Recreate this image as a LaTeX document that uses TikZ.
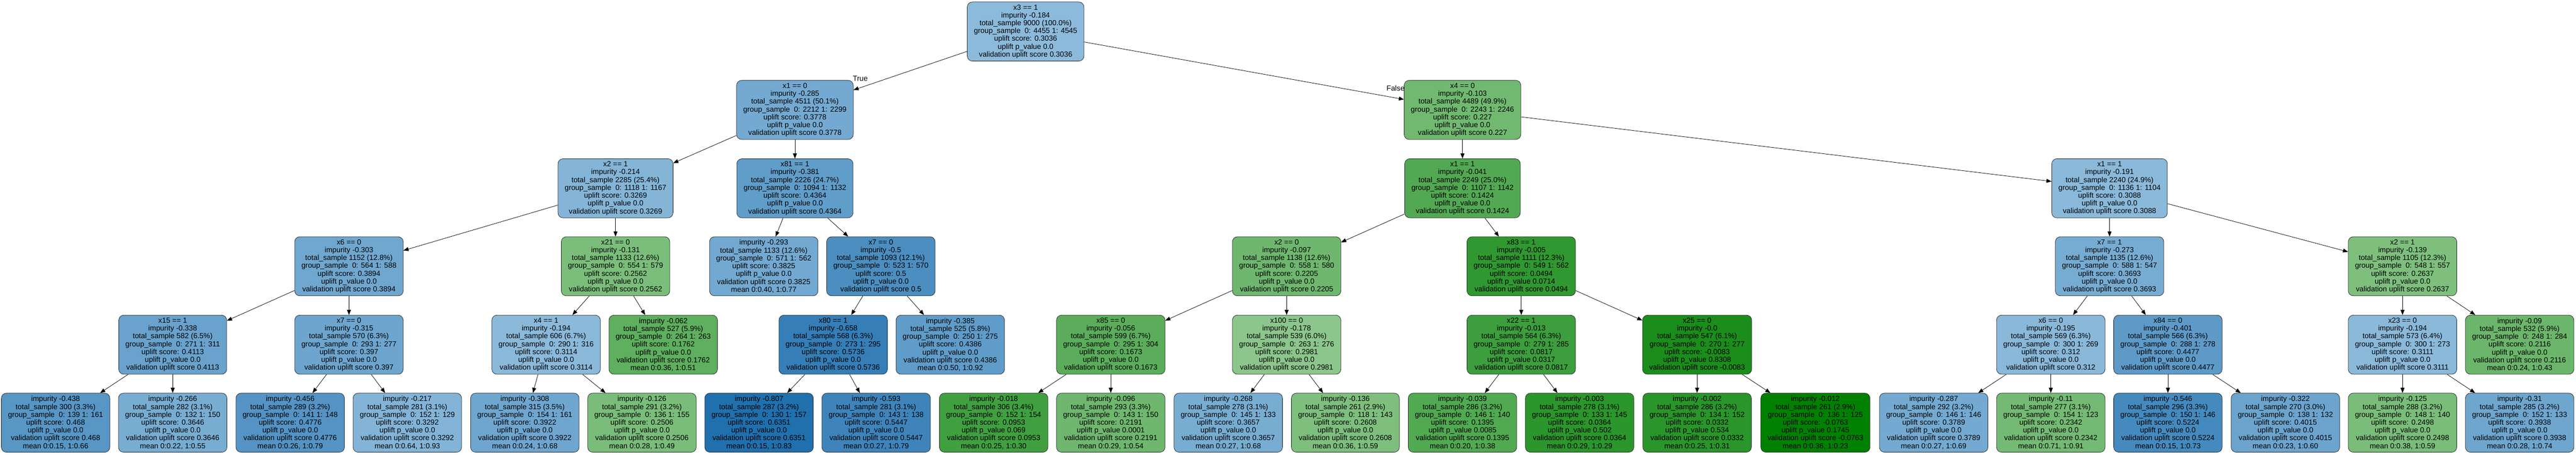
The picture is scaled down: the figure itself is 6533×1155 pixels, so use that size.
\documentclass[tikz,border=0pt]{standalone}
\usepackage{fontspec}
\setmainfont{Liberation Sans}
\usepackage{tikz}
\usepackage{xcolor}
\usetikzlibrary{arrows.meta}

\definecolor{blight}{HTML}{8DBBDB}
\definecolor{bdark}{HTML}{1F6FAE}
\definecolor{glight}{HTML}{8CC68C}
\definecolor{gdark}{HTML}{008000}

% text of a split node and of a leaf
\newcommand{\splittext}[6]{#1\\impurity #2\\total\_sample #3\\group\_sample\ \ #4\\uplift score: #5\\uplift p\_value #6\\validation uplift score #5}
\newcommand{\leaftext}[6]{impurity #1\\total\_sample #2\\group\_sample\ \ #3\\uplift score: #4\\uplift p\_value #5\\validation uplift score #4\\mean #6}

\tikzset{
  treenode/.style={draw=black!85, line width=1pt, rounded corners=13pt, align=center,
    minimum height=150pt, inner xsep=17pt, inner ysep=0pt,
    font=\fontsize{18.67}{19.9}\selectfont},
  bl/.style={treenode, fill=bdark!#1!blight},
  gr/.style={treenode, fill=gdark!#1!glight},
  link/.style={->, line width=1pt, black},
  edgelabel/.style={inner sep=0pt, font=\fontsize{18.67}{19.9}\selectfont}
}

\begin{document}
\begin{tikzpicture}[x=1pt, y=-1pt, >={Triangle[length=13pt,width=10pt]}]
	\useasboundingbox (0,0) rectangle (6533,1155);
% level 0
	\node[bl=1] (root) at (2601,80) {\splittext{x3 == 1}{-0.184}{9000 (100.0\%)}{0: 4455 1: 4545}{0.3036}{0.0}};
% level 1
	\node[bl=23] (l) at (2016,279) {\splittext{x1 == 0}{-0.285}{4511 (50.1\%)}{0: 2212 1: 2299}{0.3778}{0.0}};
	\node[gr=19] (r) at (3709,279) {\splittext{x4 == 0}{-0.103}{4489 (49.9\%)}{0: 2243 1: 2246}{0.227}{0.0}};
% level 2
	\node[bl=8] (ll) at (1561,478) {\splittext{x2 == 1}{-0.214}{2285 (25.4\%)}{0: 1118 1: 1167}{0.3269}{0.0}};
	\node[bl=40] (lr) at (2016,478) {\splittext{x81 == 1}{-0.381}{2226 (24.7\%)}{0: 1094 1: 1132}{0.4364}{0.0}};
	\node[gr=41] (rl) at (3709,478) {\splittext{x1 == 1}{-0.041}{2249 (25.0\%)}{0: 1107 1: 1142}{0.1424}{0.0}};
	\node[bl=3] (rr) at (5350,478) {\splittext{x1 == 1}{-0.191}{2240 (24.9\%)}{0: 1136 1: 1104}{0.3088}{0.0}};
% level 3
	\node[bl=26] (lll) at (885,676) {\splittext{x6 == 0}{-0.303}{1152 (12.8\%)}{0: 564 1: 588}{0.3894}{0.0}};
	\node[gr=12] (llr) at (1561,676) {\splittext{x21 == 0}{-0.131}{1133 (12.6\%)}{0: 554 1: 579}{0.2562}{0.0}};
	\node[bl=24] (lrl) at (1937,676) {\leaftext{-0.293}{1133 (12.6\%)}{0: 571 1: 562}{0.3825}{0.0}{0:0.40, 1:0.77}};
	\node[bl=59] (lrr) at (2234,676) {\splittext{x7 == 0}{-0.5}{1093 (12.1\%)}{0: 523 1: 570}{0.5}{0.0}};
	\node[gr=21] (rll) at (3263,676) {\splittext{x2 == 0}{-0.097}{1138 (12.6\%)}{0: 558 1: 580}{0.2205}{0.0}};
	\node[gr=66] (rlr) at (3858,676) {\splittext{x83 == 1}{-0.005}{1111 (12.3\%)}{0: 549 1: 562}{0.0494}{0.0714}};
	\node[bl=20] (rrl) at (5350,676) {\splittext{x7 == 1}{-0.273}{1135 (12.6\%)}{0: 588 1: 547}{0.3693}{0.0}};
	\node[gr=10] (rrr) at (6093,676) {\splittext{x2 == 1}{-0.139}{1105 (12.3\%)}{0: 548 1: 557}{0.2637}{0.0}};
% level 4
	\node[bl=33] (llll) at (438,875) {\splittext{x15 == 1}{-0.338}{582 (6.5\%)}{0: 271 1: 311}{0.4113}{0.0}};
	\node[bl=29] (lllr) at (885,875) {\splittext{x7 == 0}{-0.315}{570 (6.3\%)}{0: 293 1: 277}{0.397}{0.0}};
	\node[bl=3] (llrl) at (1385,875) {\splittext{x4 == 1}{-0.194}{606 (6.7\%)}{0: 290 1: 316}{0.3114}{0.0}};
	\node[gr=33] (llrr) at (1682,875) {\leaftext{-0.062}{527 (5.9\%)}{0: 264 1: 263}{0.1762}{0.0}{0:0.36, 1:0.51}};
	\node[bl=80] (lrrl) at (2113,875) {\splittext{x80 == 1}{-0.658}{568 (6.3\%)}{0: 273 1: 295}{0.5736}{0.0}};
	\node[bl=41] (lrrr) at (2410,875) {\leaftext{-0.385}{525 (5.8\%)}{0: 250 1: 275}{0.4386}{0.0}{0:0.50, 1:0.92}};
	\node[gr=35] (rlll) at (2817,875) {\splittext{x85 == 0}{-0.056}{599 (6.7\%)}{0: 295 1: 304}{0.1673}{0.0}};
	\node[gr=0] (rllr) at (3263,875) {\splittext{x100 == 0}{-0.178}{539 (6.0\%)}{0: 263 1: 276}{0.2981}{0.0}};
	\node[gr=57] (rlrl) at (3858,875) {\splittext{x22 == 1}{-0.013}{564 (6.3\%)}{0: 279 1: 285}{0.0817}{0.0317}};
	\node[gr=81] (rlrr) at (4304,875) {\splittext{x25 == 0}{-0.0}{547 (6.1\%)}{0: 270 1: 277}{-0.0083}{0.8308}};
	\node[bl=4] (rrll) at (5201,875) {\splittext{x6 == 0}{-0.195}{569 (6.3\%)}{0: 300 1: 269}{0.312}{0.0}};
	\node[bl=43] (rrlr) at (5498,875) {\splittext{x84 == 0}{-0.401}{566 (6.3\%)}{0: 288 1: 278}{0.4477}{0.0}};
	\node[bl=3] (rrrl) at (6093,875) {\splittext{x23 == 0}{-0.194}{573 (6.4\%)}{0: 300 1: 273}{0.3111}{0.0}};
	\node[gr=23] (rrrr) at (6390,875) {\leaftext{-0.09}{532 (5.9\%)}{0: 248 1: 284}{0.2116}{0.0}{0:0.24, 1:0.43}};
% level 5 (leaves)
	\node[bl=49] (lllll) at (141,1073) {\leaftext{-0.438}{300 (3.3\%)}{0: 139 1: 161}{0.468}{0.0}{0:0.15, 1:0.66}};
	\node[bl=19] (llllr) at (438,1073) {\leaftext{-0.266}{282 (3.1\%)}{0: 132 1: 150}{0.3646}{0.0}{0:0.22, 1:0.55}};
	\node[bl=52] (lllrl) at (736,1073) {\leaftext{-0.456}{289 (3.2\%)}{0: 141 1: 148}{0.4776}{0.0}{0:0.26, 1:0.79}};
	\node[bl=9] (lllrr) at (1033,1073) {\leaftext{-0.217}{281 (3.1\%)}{0: 152 1: 129}{0.3292}{0.0}{0:0.64, 1:0.93}};
	\node[bl=27] (llrll) at (1331,1073) {\leaftext{-0.308}{315 (3.5\%)}{0: 154 1: 161}{0.3922}{0.0}{0:0.24, 1:0.68}};
	\node[gr=13] (llrlr) at (1628,1073) {\leaftext{-0.126}{291 (3.2\%)}{0: 136 1: 155}{0.2506}{0.0}{0:0.28, 1:0.49}};
	\node[bl=99] (lrrll) at (1925,1073) {\leaftext{-0.807}{287 (3.2\%)}{0: 130 1: 157}{0.6351}{0.0}{0:0.15, 1:0.83}};
	\node[bl=72] (lrrlr) at (2222,1073) {\leaftext{-0.593}{281 (3.1\%)}{0: 143 1: 138}{0.5447}{0.0}{0:0.27, 1:0.79}};
	\node[gr=54] (rllll) at (2520,1073) {\leaftext{-0.018}{306 (3.4\%)}{0: 152 1: 154}{0.0953}{0.069}{0:0.25, 1:0.30}};
	\node[gr=21] (rlllr) at (2817,1073) {\leaftext{-0.096}{293 (3.3\%)}{0: 143 1: 150}{0.2191}{0.0001}{0:0.29, 1:0.54}};
	\node[bl=19] (rllrl) at (3115,1073) {\leaftext{-0.268}{278 (3.1\%)}{0: 145 1: 133}{0.3657}{0.0}{0:0.27, 1:0.68}};
	\node[gr=10] (rllrr) at (3412,1073) {\leaftext{-0.136}{261 (2.9\%)}{0: 118 1: 143}{0.2608}{0.0}{0:0.36, 1:0.59}};
	\node[gr=42] (rlrll) at (3709,1073) {\leaftext{-0.039}{286 (3.2\%)}{0: 146 1: 140}{0.1395}{0.0085}{0:0.20, 1:0.38}};
	\node[gr=69] (rlrlr) at (4006,1073) {\leaftext{-0.003}{278 (3.1\%)}{0: 133 1: 145}{0.0364}{0.502}{0:0.29, 1:0.29}};
	\node[gr=70] (rlrrl) at (4304,1073) {\leaftext{-0.002}{286 (3.2\%)}{0: 134 1: 152}{0.0332}{0.534}{0:0.25, 1:0.31}};
	\node[gr=99] (rlrrr) at (4604,1073) {\leaftext{-0.012}{261 (2.9\%)}{0: 136 1: 125}{-0.0763}{0.1745}{0:0.36, 1:0.23}};
	\node[bl=23] (rrlll) at (4904,1073) {\leaftext{-0.287}{292 (3.2\%)}{0: 146 1: 146}{0.3789}{0.0}{0:0.27, 1:0.69}};
	\node[gr=17] (rrllr) at (5201,1073) {\leaftext{-0.11}{277 (3.1\%)}{0: 154 1: 123}{0.2342}{0.0}{0:0.71, 1:0.91}};
	\node[bl=65] (rrlrl) at (5498,1073) {\leaftext{-0.546}{296 (3.3\%)}{0: 150 1: 146}{0.5224}{0.0}{0:0.15, 1:0.73}};
	\node[bl=30] (rrlrr) at (5796,1073) {\leaftext{-0.322}{270 (3.0\%)}{0: 138 1: 132}{0.4015}{0.0}{0:0.23, 1:0.60}};
	\node[gr=13] (rrrll) at (6093,1073) {\leaftext{-0.125}{288 (3.2\%)}{0: 148 1: 140}{0.2498}{0.0}{0:0.38, 1:0.59}};
	\node[bl=28] (rrrlr) at (6390,1073) {\leaftext{-0.31}{285 (3.2\%)}{0: 152 1: 133}{0.3938}{0.0}{0:0.28, 1:0.74}};

% edges
	\path[link] (root) edge node[edgelabel, at end, anchor=south west, xshift=-2pt, yshift=22pt] {True} (l)
		edge node[edgelabel, at end, anchor=south east, xshift=2pt, yshift=21pt] {False} (r);
	\path[link] (l) edge (ll) edge (lr);
	\path[link] (r) edge (rl) edge (rr);
	\path[link] (ll) edge (lll) edge (llr);
	\path[link] (lr) edge (lrl) edge (lrr);
	\path[link] (rl) edge (rll) edge (rlr);
	\path[link] (rr) edge (rrl) edge (rrr);
	\path[link] (lll) edge (llll) edge (lllr);
	\path[link] (llr) edge (llrl) edge (llrr);
	\path[link] (lrr) edge (lrrl) edge (lrrr);
	\path[link] (rll) edge (rlll) edge (rllr);
	\path[link] (rlr) edge (rlrl) edge (rlrr);
	\path[link] (rrl) edge (rrll) edge (rrlr);
	\path[link] (rrr) edge (rrrl) edge (rrrr);
	\path[link] (llll) edge (lllll) edge (llllr);
	\path[link] (lllr) edge (lllrl) edge (lllrr);
	\path[link] (llrl) edge (llrll) edge (llrlr);
	\path[link] (lrrl) edge (lrrll) edge (lrrlr);
	\path[link] (rlll) edge (rllll) edge (rlllr);
	\path[link] (rllr) edge (rllrl) edge (rllrr);
	\path[link] (rlrl) edge (rlrll) edge (rlrlr);
	\path[link] (rlrr) edge (rlrrl) edge (rlrrr);
	\path[link] (rrll) edge (rrlll) edge (rrllr);
	\path[link] (rrlr) edge (rrlrl) edge (rrlrr);
	\path[link] (rrrl) edge (rrrll) edge (rrrlr);
\end{tikzpicture}
\end{document}
